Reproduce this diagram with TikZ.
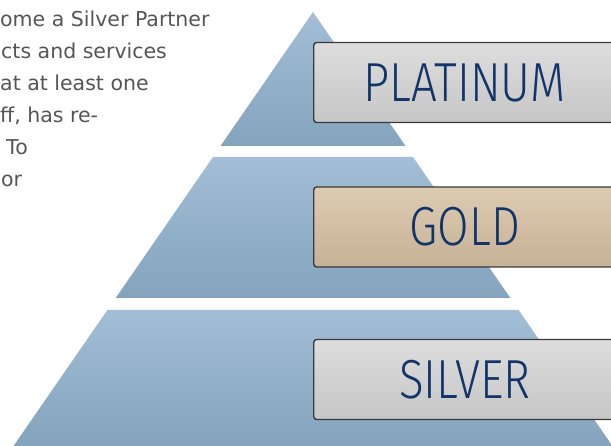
\documentclass[tikz,border=0pt]{standalone}
\usepackage{fontspec}
\setmainfont{DejaVu Sans}
\newfontfamily\tierfont[FakeStretch=0.83, UprightFont=* Light]{Fira Sans}

\definecolor{pyrtop}{RGB}{163,190,214}
\definecolor{pyrbot}{RGB}{132,163,189}
\definecolor{bodygray}{RGB}{85,85,85}
\definecolor{tiernavy}{RGB}{18,52,104}
\definecolor{silvtop}{RGB}{221,221,221}
\definecolor{silvbot}{RGB}{198,198,198}
\definecolor{goldtop}{RGB}{221,203,177}
\definecolor{goldbot}{RGB}{198,178,150}
\definecolor{boxedge}{RGB}{58,58,58}

\tikzset{
  band/.style={top color=pyrtop, bottom color=pyrbot, draw=none},
  tierbox/.style={draw=boxedge, line width=1.4pt, rounded corners=3pt,
    minimum width=302pt, minimum height=80pt, anchor=west, inner sep=0pt,
    text=tiernavy, font=\tierfont\fontsize{55}{60}\selectfont},
  blurb/.style={anchor=base west, inner sep=0pt, text=bodygray,
    font=\fontsize{20.5}{24}\selectfont}
}

\begin{document}
\begin{tikzpicture}[x=1pt,y=1pt]
        \useasboundingbox (0,0) rectangle (611,446);
        \clip (0,0) rectangle (611,446);
        \node[blurb] (line1) at (0,419) {ome a Silver Partner};
        \node[blurb] (line2) at (1,387) {cts and services};
        \node[blurb] (line3) at (0,355) {at at least one};
        \node[blurb] (line4) at (0,323) {ff, has re-};
        \node[blurb] (line5) at (6,291) {To};
        \node[blurb] (line6) at (1,259) {or};
        \shade[band] (313,434) -- (405.5,300) -- (220.5,300) -- cycle;
        \shade[band] (213,289) -- (413,289) -- (510.3,148) -- (115.7,148)
            -- cycle;
        \shade[band] (107.4,136) -- (518.6,136) -- (612.5,0) -- (13.5,0)
            -- cycle;
        \node[tierbox, top color=silvtop, bottom color=silvbot] (platinum)
            at (313,363.5) {PLATINUM};
        \node[tierbox, top color=goldtop, bottom color=goldbot] (gold)
            at (313,219) {GOLD};
        \node[tierbox, top color=silvtop, bottom color=silvbot] (silver)
            at (313,66.5) {SILVER};
    \end{tikzpicture}
\end{document}
